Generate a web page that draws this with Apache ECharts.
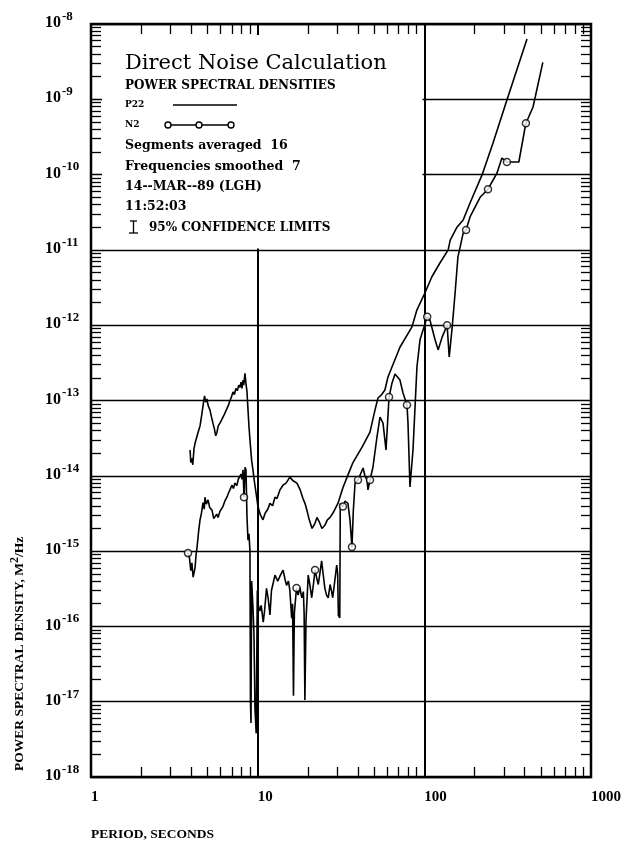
<!DOCTYPE html>
<html>
<head>
<meta charset="utf-8">
<script src="https://cdn.jsdelivr.net/npm/echarts@6/dist/echarts.min.js"></script>
<style>html,body{margin:0;padding:0;background:#fff}#chart{width:636px;height:846px}</style>
</head>
<body>
<div id="chart"></div>
<script>
// ---- data (period in s, PSD in M^2/Hz) ----
const xTickLabels = ['1', '10', '100', '1000'];
const yTickExponents = [-18, -17, -16, -15, -14, -13, -12, -11, -10, -9, -8];

const p22Period = [3.93, 3.97, 4.03, 4.08, 4.15, 4.21, 4.35, 4.51, 4.62, 4.72, 4.80, 4.88, 4.96, 5.05, 5.17, 5.27, 5.39, 5.50, 5.60, 5.70, 5.80, 5.94, 6.10, 6.30, 6.54, 6.70, 6.82, 6.95, 7.11, 7.25, 7.40, 7.55, 7.70, 7.83, 7.95, 8.05, 8.15, 8.25, 8.39, 8.50, 8.63, 8.75, 8.87, 8.99, 9.20, 9.37, 9.55, 9.77, 10.04, 10.4, 10.76, 11.1, 11.5, 11.85, 12.3, 12.7, 13.06, 13.6, 14.19, 14.8, 15.6, 16.3, 17.2, 18.0, 18.7, 19.3, 19.8, 20.4, 21.2, 22.0, 22.7, 23.5, 24.3, 25.3, 26.2, 27.2, 28.3, 30.3, 32.5, 35.8, 37.3, 42.3, 47.2, 50.6, 52.7, 55.5, 58.0, 60.5, 71.4, 84.3, 90.3, 100.9, 111, 124, 139, 143, 157, 171, 188, 222, 258, 313, 413];
const p22Psd = [2.2e-14, 1.5e-14, 1.7e-14, 1.4e-14, 2.3e-14, 2.7e-14, 3.5e-14, 4.6e-14, 6.5e-14, 9.0e-14, 1.15e-13, 9.5e-14, 1.05e-13, 8.5e-14, 7.5e-14, 6.2e-14, 5.0e-14, 4.2e-14, 3.4e-14, 3.8e-14, 4.6e-14, 5.0e-14, 5.6e-14, 6.5e-14, 7.8e-14, 8.8e-14, 1.0e-13, 1.1e-13, 1.3e-13, 1.2e-13, 1.45e-13, 1.35e-13, 1.6e-13, 1.5e-13, 1.75e-13, 1.45e-13, 1.85e-13, 1.6e-13, 2.3e-13, 1.7e-13, 1.3e-13, 7.5e-14, 4.5e-14, 3.0e-14, 1.6e-14, 1.2e-14, 8.5e-15, 6.0e-15, 3.9e-15, 3.0e-15, 2.6e-15, 3.2e-15, 3.6e-15, 4.3e-15, 4.0e-15, 5.2e-15, 5.0e-15, 6.5e-15, 7.5e-15, 8.0e-15, 9.6e-15, 8.6e-15, 8.0e-15, 6.5e-15, 5.0e-15, 4.2e-15, 3.4e-15, 2.6e-15, 2.0e-15, 2.3e-15, 2.8e-15, 2.4e-15, 2.0e-15, 2.2e-15, 2.6e-15, 2.8e-15, 3.2e-15, 4.3e-15, 7.0e-15, 1.2e-14, 1.5e-14, 2.4e-14, 3.8e-14, 7.5e-14, 1.08e-13, 1.2e-13, 1.38e-13, 2.05e-13, 5.1e-13, 9.5e-13, 1.6e-12, 2.7e-12, 4.4e-12, 6.7e-12, 1.0e-11, 1.35e-11, 2.0e-11, 2.5e-11, 4.2e-11, 9.9e-11, 2.6e-10, 9.8e-10, 6.3e-9];

const n2Period = [3.82, 3.90, 3.97, 4.03, 4.10, 4.21, 4.27, 4.33, 4.42, 4.51, 4.60, 4.70, 4.78, 4.83, 4.92, 5.04, 5.15, 5.32, 5.45, 5.55, 5.68, 5.78, 5.95, 6.19, 6.35, 6.54, 6.70, 6.82, 7.00, 7.15, 7.31, 7.50, 7.65, 7.83, 7.95, 8.05, 8.17, 8.28, 8.40, 8.51, 8.63, 8.75, 8.87, 8.99, 9.05, 9.12, 9.20, 9.30, 9.37, 9.50, 9.64, 9.80, 9.95, 10.1, 10.3, 10.5, 10.8, 11.0, 11.3, 11.55, 11.85, 12.1, 12.4, 12.7, 13.2, 13.7, 14.2, 14.6, 14.9, 15.3, 15.6, 16.0, 16.2, 16.4, 16.6, 17.1, 17.5, 17.9, 18.4, 18.8, 19.0, 19.2, 19.5, 20.1, 20.6, 21.1, 21.6, 22.1, 22.6, 23.1, 23.6, 24.2, 24.7, 25.3, 25.9, 26.5, 27.2, 27.7, 28.2, 28.8, 29.8, 30.2, 30.5, 31.1, 31.3, 32.5, 33.4, 34.8, 35.8, 36.8, 37.5, 38.4, 40.0, 42.9, 44.0, 45.3, 45.9, 47.2, 49.2, 52.0, 54.2, 56.5, 58.9, 61.4, 64.0, 66.7, 71.4, 74.5, 78.7, 79.8, 82.0, 85.5, 90.3, 94.2, 98.2, 104, 108, 116, 121, 128, 137, 141, 147, 153, 159, 171, 178, 188, 216, 241, 273, 292, 313, 369, 402, 407, 449, 514];
const n2Psd = [9.4e-16, 8.0e-16, 5.5e-16, 7.0e-16, 4.5e-16, 6.0e-16, 9.0e-16, 1.13e-15, 1.8e-15, 2.6e-15, 3.2e-15, 4.4e-15, 3.6e-15, 5.2e-15, 4.2e-15, 4.8e-15, 3.8e-15, 3.5e-15, 2.7e-15, 2.6e-15, 3.1e-15, 2.8e-15, 3.4e-15, 3.9e-15, 4.6e-15, 5.2e-15, 6.0e-15, 6.5e-15, 7.5e-15, 6.8e-15, 8.0e-15, 7.4e-15, 9.0e-15, 8.8e-15, 1.05e-14, 9.0e-15, 1.2e-14, 5.2e-15, 1.3e-14, 1.19e-14, 2.8e-15, 1.4e-15, 1.7e-15, 1.0e-15, 1.0e-17, 5.2e-18, 4.0e-16, 2.5e-16, 1.8e-16, 8.0e-17, 7.8e-18, 3.8e-18, 3.0e-16, 1.9e-16, 1.6e-16, 1.9e-16, 1.14e-16, 1.6e-16, 3.2e-16, 2.4e-16, 1.42e-16, 3.0e-16, 3.8e-16, 4.8e-16, 4.0e-16, 4.8e-16, 5.6e-16, 4.2e-16, 3.5e-16, 4.0e-16, 3.0e-16, 1.29e-16, 2.0e-16, 1.2e-17, 1.5e-16, 3.24e-16, 2.6e-16, 3.3e-16, 2.4e-16, 2.9e-16, 1.5e-16, 1.05e-17, 1.2e-16, 4.8e-16, 3.5e-16, 2.4e-16, 3.6e-16, 5.6e-16, 4.4e-16, 3.6e-16, 5.0e-16, 7.4e-16, 5.0e-16, 3.2e-16, 2.6e-16, 2.4e-16, 3.6e-16, 3.0e-16, 2.4e-16, 3.5e-16, 6.5e-16, 5.0e-16, 1.4e-16, 1.3e-16, 4.3e-15, 3.9e-15, 4.6e-15, 4.3e-15, 2.6e-15, 1.13e-15, 3.5e-15, 8.0e-15, 8.8e-15, 1.27e-14, 1.0e-14, 8.8e-15, 6.5e-15, 8.8e-15, 1.31e-14, 3.3e-14, 6.0e-14, 5.0e-14, 2.2e-14, 1.11e-13, 1.71e-13, 2.25e-13, 1.87e-13, 1.26e-13, 8.7e-14, 5.0e-14, 7.1e-15, 2.2e-14, 2.8e-13, 6.4e-13, 8.6e-13, 1.29e-12, 1.17e-12, 6.4e-13, 4.7e-13, 7.0e-13, 1.0e-12, 3.8e-13, 9.5e-13, 2.7e-12, 8.0e-12, 1.67e-11, 1.84e-11, 2.74e-11, 5.0e-11, 6.4e-11, 1.05e-10, 1.66e-10, 1.47e-10, 1.47e-10, 4.2e-10, 4.8e-10, 7.9e-10, 3.1e-9];

const n2MarkPeriod = [3.82, 8.28, 17.1, 22.1, 32.5, 36.8, 40.0, 47.2, 61.4, 78.7, 104, 137, 178, 241, 313, 407];
const n2MarkPsd = [9.4e-16, 5.2e-15, 3.24e-16, 5.6e-16, 3.9e-15, 1.13e-15, 8.8e-15, 8.8e-15, 1.11e-13, 8.7e-14, 1.29e-12, 1.0e-12, 1.84e-11, 6.4e-11, 1.47e-10, 4.8e-10];

const legendLines = ['Segments averaged  16', 'Frequencies smoothed  7', '14--MAR--89 (LGH)', '11:52:03'];

// ---- build ----
// PSD values are shifted by 1e18 so the log axis works with well-conditioned numbers;
// the tick labels subtract the same 18 decades again.
const PSD_SHIFT = 18;
const k = Math.pow(10, PSD_SHIFT);
const zip = (xs, ys) => xs.map((x, i) => [x, ys[i] * k]);

const SERIF = '"Liberation Serif", "DejaVu Serif", serif';
const DJ = '"DejaVu Serif", serif';
const black = '#000';

const yMin = Math.pow(10, yTickExponents[0] + PSD_SHIFT) * 1.000001;
const yMax = Math.pow(10, yTickExponents[yTickExponents.length - 1] + PSD_SHIFT);
const xMin = Number(xTickLabels[0]);
const xMax = Number(xTickLabels[xTickLabels.length - 1]);

const minor = { show: true, splitNumber: 9, length: 10, lineStyle: { color: black, width: 1.3 } };

function xAxisDef(pos, main) {
  return {
    type: 'log', logBase: 10, min: xMin, max: xMax, position: pos,
    axisLine: { show: false },
    axisTick: { show: false, inside: true },
    minorTick: minor,
    splitLine: { show: main, lineStyle: { color: black, width: 2 } },
    axisLabel: main ? {
      show: true, align: 'left', verticalAlign: 'top', margin: 13,
      fontFamily: SERIF, fontWeight: 'bold', fontSize: 15, color: black,
      showMinLabel: true, showMaxLabel: true,
      formatter: v => String(Math.round(v))
    } : { show: false }
  };
}
function yAxisDef(pos, main) {
  return {
    type: 'log', logBase: 10, min: yMin, max: yMax, position: pos,
    axisLine: { show: false },
    axisTick: { show: false, inside: true },
    minorTick: minor,
    splitLine: { show: main, lineStyle: { color: black, width: 1.3 } },
    axisLabel: main ? {
      show: true, align: 'left', verticalAlign: 'middle', margin: 46, color: black,
      padding: [0, 0, 7, 0],
      showMinLabel: true, showMaxLabel: true,
      formatter: v => '{b|10}{e|' + (Math.round(Math.log10(v)) - PSD_SHIFT) + '}',
      rich: {
        b: { fontFamily: SERIF, fontWeight: 'bold', fontSize: 16, lineHeight: 21, verticalAlign: 'bottom', color: black },
        e: { fontFamily: SERIF, fontWeight: 'bold', fontSize: 13, lineHeight: 21, verticalAlign: 'top', color: black, padding: [0, 0, 0, 1] }
      }
    } : { show: false }
  };
}

function txt(x, y, text, font, extra) {
  return Object.assign({
    type: 'text', x: x, y: y, z: 101,
    style: { text: text, font: font, fill: black, align: 'left', verticalAlign: 'middle' }
  }, extra || {});
}

const legendFont = 'bold 12.5px ' + DJ;
const graphics = [
  { type: 'rect', z: 100, shape: { x: 102, y: 35, width: 320.5, height: 213.5 }, style: { fill: '#fff' } },
  txt(125, 64, 'Direct Noise Calculation', '21px ' + DJ),
  txt(125, 86, 'POWER SPECTRAL DENSITIES', 'bold 12px ' + DJ),
  txt(125, 105, 'P22', 'bold 9px ' + DJ),
  { type: 'line', z: 101, shape: { x1: 173, y1: 105, x2: 237, y2: 105 }, style: { stroke: black, lineWidth: 1.3 } },
  txt(125, 125, 'N2', 'bold 9px ' + DJ),
  { type: 'line', z: 101, shape: { x1: 168, y1: 125, x2: 231, y2: 125 }, style: { stroke: black, lineWidth: 1.3 } },
  { type: 'circle', z: 102, shape: { cx: 168, cy: 125, r: 3 }, style: { fill: '#fff', stroke: black, lineWidth: 1.4 } },
  { type: 'circle', z: 102, shape: { cx: 199, cy: 125, r: 3 }, style: { fill: '#fff', stroke: black, lineWidth: 1.4 } },
  { type: 'circle', z: 102, shape: { cx: 231, cy: 125, r: 3 }, style: { fill: '#fff', stroke: black, lineWidth: 1.4 } },
  txt(125, 146, legendLines[0], legendFont),
  txt(125, 167, legendLines[1], legendFont),
  txt(125, 187, legendLines[2], legendFont),
  txt(125, 207, legendLines[3], legendFont),
  { type: 'polyline', z: 101, shape: { points: [[130, 221], [137, 221]] }, style: { stroke: black, lineWidth: 1.3, fill: null } },
  { type: 'polyline', z: 101, shape: { points: [[133.5, 221], [133.5, 233]] }, style: { stroke: black, lineWidth: 1.3, fill: null } },
  { type: 'polyline', z: 101, shape: { points: [[129, 233], [138, 233]] }, style: { stroke: black, lineWidth: 1.3, fill: null } },
  txt(149, 228, '95% CONFIDENCE LIMITS', 'bold 12px ' + DJ),
  // axis titles
  txt(91, 835, 'PERIOD, SECONDS', 'bold 13.5px ' + SERIF),
  {
    type: 'text', x: 20, y: 771, rotation: Math.PI / 2, z: 101,
    style: {
      text: 'POWER SPECTRAL DENSITY, M{s|2}/Hz', font: 'bold 13.5px ' + SERIF, fill: black,
      align: 'left', verticalAlign: 'middle',
      rich: { s: { font: 'bold 12px ' + SERIF, fill: black, verticalAlign: 'top', lineHeight: 22 } }
    }
  }
];

const option = {
  backgroundColor: '#fff',
  animation: false,
  grid: { left: 91, top: 24, right: 45, bottom: 69, show: true, borderColor: black, borderWidth: 2.5, backgroundColor: 'transparent' },
  xAxis: [xAxisDef('bottom', true), xAxisDef('top', false)],
  yAxis: [yAxisDef('left', true), yAxisDef('right', false)],
  series: [
    { name: 'P22', type: 'line', xAxisIndex: 0, yAxisIndex: 0, data: zip(p22Period, p22Psd), symbol: 'none', showSymbol: false, lineStyle: { color: black, width: 1.6 }, z: 3 },
    { name: 'N2', type: 'line', xAxisIndex: 0, yAxisIndex: 0, data: zip(n2Period, n2Psd), symbol: 'none', showSymbol: false, lineStyle: { color: black, width: 1.6 }, z: 3 },
    { name: 'N2 markers', type: 'scatter', xAxisIndex: 0, yAxisIndex: 0, data: zip(n2MarkPeriod, n2MarkPsd), symbol: 'circle', symbolSize: 7, itemStyle: { color: '#fff', borderColor: black, borderWidth: 1.5 }, z: 4 }
  ],
  graphic: { elements: graphics }
};

const chart = echarts.init(document.getElementById('chart'), null, { renderer: 'canvas' });
chart.setOption(option);
</script>
</body>
</html>
